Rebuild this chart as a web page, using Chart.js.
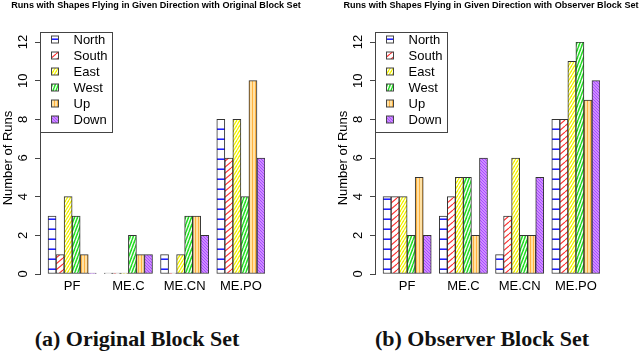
<!DOCTYPE html>
<html>
<head>
<meta charset="utf-8">
<script src="https://cdn.jsdelivr.net/npm/chart.js@4.4.1/dist/chart.umd.min.js"></script>
<style>
body { margin: 0; background: #fff; width: 640px; height: 354px; position: relative; overflow: hidden; }
canvas { position: absolute; top: 0; }
.ttl { position: absolute; top: 0; line-height: 12px; font: bold 9.1px "Liberation Sans", Arial, sans-serif; color: #000; white-space: nowrap; transform: translateX(-50%); }
.cap { position: absolute; top: 326px; font: bold 22px "Liberation Serif", serif; color: #111; white-space: nowrap; transform: translateX(-50%); }
</style>
</head>
<body>
<canvas id="left" width="320" height="300" style="left:0"></canvas>
<canvas id="right" width="320" height="300" style="left:320px"></canvas>
<div class="ttl" style="left:156px">Runs with Shapes Flying in Given Direction with Original Block Set</div>
<div class="ttl" style="left:491px">Runs with Shapes Flying in Given Direction with Observer Block Set</div>
<div class="cap" style="left:137px">(a) Original Block Set</div>
<div class="cap" style="left:482px">(b) Observer Block Set</div>
<script>
// categories
var groups = ['PF', 'ME.C', 'ME.CN', 'ME.PO'];
var directions = ['North', 'South', 'East', 'West', 'Up', 'Down'];

// original block set
var originalNorth = [3, 0, 1, 8];
var originalSouth = [1, 0, 0, 6];
var originalEast = [4, 0, 1, 8];
var originalWest = [3, 2, 3, 4];
var originalUp = [1, 1, 3, 10];
var originalDown = [0, 1, 2, 6];

// observer block set
var observerNorth = [4, 3, 1, 8];
var observerSouth = [4, 4, 3, 8];
var observerEast = [4, 5, 6, 11];
var observerWest = [2, 5, 2, 12];
var observerUp = [5, 2, 2, 9];
var observerDown = [2, 6, 5, 10];

var yTicks = [0, 2, 4, 6, 8, 10, 12];

// hachures facon R
var tile = function(w, h, bg, draw) {
    var c = document.createElement('canvas');
    c.width = w; c.height = h;
    var g = c.getContext('2d');
    g.fillStyle = bg;
    g.fillRect(0, 0, w, h);
    draw(g, w, h);
    return g.createPattern(c, 'repeat');
};
var diag = function(color, lw) {
    return function(g, w, h) {
        g.strokeStyle = color;
        g.lineWidth = lw;
        for (var k = -1; k <= 1; k++) {
            g.beginPath();
            g.moveTo(k * w, h);
            g.lineTo(k * w + w, 0);
            g.stroke();
        }
    };
};
var patterns = {
    North: tile(4, 10, '#ffffff', function(g) {
        g.fillStyle = '#8080ff'; g.fillRect(0, 8, 4, 1);
        g.fillStyle = '#2020ff'; g.fillRect(0, 9, 4, 1);
    }),
    South: tile(7, 6, '#ffffff', diag('#ff2a2a', 1.1)),
    East: tile(3, 5, '#ffffff', diag('#f2f200', 1.3)),
    West: tile(3, 8, '#ffffff', diag('#22dd22', 1.5)),
    Up: tile(3, 4, '#ffe2a6', function(g) { g.fillStyle = '#ffb23f'; g.fillRect(0, 0, 1, 4); }),
    Down: tile(3, 3, '#cf8cff', function(g) { g.fillStyle = '#a64dff'; g.fillRect(0, 0, 1, 1); g.fillRect(1, 1, 1, 1); g.fillRect(2, 2, 1, 1); })
};

// legende encadree dans la zone du graphe
var boxLegend = {
    id: 'boxLegend',
    afterDraw: function(chart) {
        var ctx = chart.ctx;
        var x0 = chart.chartArea.left + 0.5;
        var y0 = chart.chartArea.top - 10 + 0.5;
        ctx.save();
        ctx.fillStyle = '#fff';
        ctx.fillRect(x0, y0, 72, 100);
        ctx.strokeStyle = '#444';
        ctx.lineWidth = 1;
        ctx.strokeRect(x0, y0, 72, 100);
        ctx.font = '13px "Liberation Sans", Arial, sans-serif';
        ctx.textBaseline = 'middle';
        var row = 0;
        chart.data.datasets.forEach(function(ds) {
            if (!ds.label) return;
            var cy = y0 + 7 + row * 15.9;
            ctx.fillStyle = ds.backgroundColor;
            ctx.fillRect(x0 + 11, Math.round(cy - 3.5), 7, 7);
            ctx.strokeStyle = '#444';
            ctx.strokeRect(x0 + 11, Math.round(cy - 3.5), 7, 7);
            ctx.fillStyle = '#000';
            ctx.fillText(ds.label, x0 + 33, cy + 1);
            row++;
        });
        ctx.restore();
    }
};

var makeChart = function(id, series, padLeft, padRight) {
    // premier jeu vide = espace d'une barre avant chaque groupe (comme barplot)
    var datasets = [{ label: '', data: [null, null, null, null] }];
    directions.forEach(function(d, i) {
        datasets.push({
            label: d,
            data: series[i],
            backgroundColor: patterns[d],
            borderColor: '#333',
            borderWidth: 1,
            borderSkipped: false,
            minBarLength: 1
        });
    });
    return new Chart(document.getElementById(id).getContext('2d'), {
        type: 'bar',
        data: { labels: groups, datasets: datasets },
        plugins: [boxLegend],
        options: {
            responsive: false,
            animation: false,
            categoryPercentage: 1,
            barPercentage: 1,
            layout: { padding: { left: padLeft, right: padRight, top: 42, bottom: 4 } },
            plugins: {
                legend: { display: false },
                tooltip: { enabled: false },
                title: { display: false }
            },
            scales: {
                x: {
                    grid: { display: false, drawTicks: false },
                    border: { display: false },
                    ticks: { color: '#000', padding: 5, labelOffset: 4, font: { family: '"Liberation Sans", Arial, sans-serif', size: 13 } },
                    afterFit: function(s) { s.height = 22; }
                },
                y: {
                    min: 0,
                    max: 12,
                    afterBuildTicks: function(s) { s.ticks = yTicks.map(function(v) { return { value: v }; }); },
                    grid: { drawOnChartArea: false, tickLength: 5, color: '#444' },
                    border: { display: true, color: '#444' },
                    ticks: { color: '#000', padding: 4, minRotation: 90, maxRotation: 90, crossAlign: 'center', font: { family: '"Liberation Sans", Arial, sans-serif', size: 13 } },
                    title: { display: true, text: 'Number of Runs', color: '#000', padding: { top: 1, bottom: 0 }, font: { family: '"Liberation Sans", Arial, sans-serif', size: 13 } },
                    afterFit: function(s) { s.width = 40; }
                }
            }
        }
    });
};

makeChart('left', [originalNorth, originalSouth, originalEast, originalWest, originalUp, originalDown], 0, 55);
makeChart('right', [observerNorth, observerSouth, observerEast, observerWest, observerUp, observerDown], 15, 40);
</script>
</body>
</html>
